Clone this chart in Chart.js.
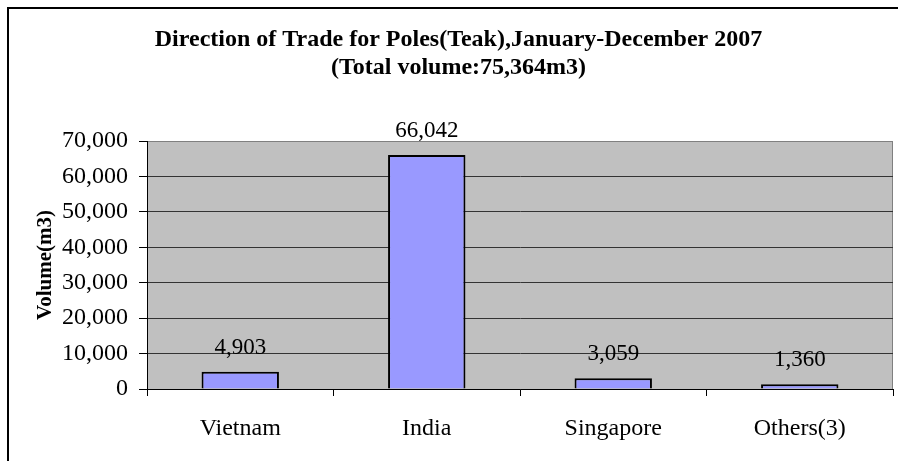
<!DOCTYPE html>
<html>
<head>
<meta charset="utf-8">
<script src="https://cdn.jsdelivr.net/npm/chart.js@4"></script>
<style>
  body { margin: 0; background: #fff; }
</style>
</head>
<body>
<canvas id="trade-chart" width="898" height="461"></canvas>
<script>
    // Chart data
    const countries = ['Vietnam', 'India', 'Singapore', 'Others(3)'];
    const volumes = [4903, 66042, 3059, 1360];
    const titleLines = [
        'Direction of Trade for Poles(Teak),January-December 2007',
        '(Total volume:75,364m3)',
    ];
    const yAxisTitle = 'Volume(m3)';

    const serif = '"Liberation Serif", "Times New Roman", serif';

    // Gray plot area + frame round the picture
    const backgroundPlugin = {
        id: 'plotBackground',
        beforeDraw: (chart) => {
            const { ctx, chartArea } = chart;
            ctx.save();
            ctx.fillStyle = '#ffffff';
            ctx.fillRect(0, 0, chart.width, chart.height);

            ctx.strokeStyle = '#000000';
            ctx.lineWidth = 2;
            ctx.beginPath();
            ctx.moveTo(8, chart.height);
            ctx.lineTo(8, 8);
            ctx.lineTo(chart.width, 8);
            ctx.stroke();

            ctx.fillStyle = '#c0c0c0';
            ctx.fillRect(
                chartArea.left,
                chartArea.top,
                chartArea.right - chartArea.left,
                chartArea.bottom - chartArea.top
            );
            ctx.strokeStyle = '#808080';
            ctx.lineWidth = 1;
            ctx.strokeRect(
                chartArea.left + 0.5,
                chartArea.top + 0.5,
                chartArea.right - chartArea.left - 1,
                chartArea.bottom - chartArea.top
            );
            ctx.restore();
        },
    };

    // Value labels above the bars
    const valueLabelPlugin = {
        id: 'valueLabels',
        afterDatasetsDraw: (chart) => {
            const { ctx } = chart;
            const meta = chart.getDatasetMeta(0);
            ctx.save();
            ctx.font = '23px ' + serif;
            ctx.fillStyle = '#000000';
            ctx.textAlign = 'center';
            ctx.textBaseline = 'middle';
            meta.data.forEach((bar, i) => {
                ctx.fillText(volumes[i].toLocaleString('en-US'), bar.x, bar.y - 24);
            });
            ctx.restore();
        },
    };

    const data = {
        labels: countries,
        datasets: [
            {
                data: volumes,
                backgroundColor: '#9999ff',
                borderColor: '#000000',
                borderWidth: 2,
                categoryPercentage: 1,
                barPercentage: 0.415,
            },
        ],
    };

    const config = {
        type: 'bar',
        data: data,
        options: {
            responsive: false,
            animation: false,
            layout: {
                padding: { left: 24, right: 5, top: 0, bottom: 0 },
            },
            plugins: {
                legend: { display: false },
                tooltip: { enabled: false },
                title: {
                    display: true,
                    text: titleLines,
                    color: '#000000',
                    font: { family: serif, size: 24, weight: 'bold', lineHeight: '28px' },
                    padding: { top: 26, bottom: 59 },
                },
            },
            scales: {
                x: {
                    afterFit: (scale) => {
                        scale.height = 72;
                    },
                    grid: {
                        drawOnChartArea: false,
                        drawTicks: true,
                        tickLength: 7,
                        color: '#000000',
                    },
                    border: { display: true, color: '#000000', width: 1 },
                    ticks: {
                        color: '#000000',
                        font: { family: serif, size: 24 },
                        padding: 18,
                        maxRotation: 0,
                    },
                },
                y: {
                    min: 0,
                    max: 70000,
                    afterFit: (scale) => {
                        scale.width = 123;
                    },
                    grid: {
                        color: (ctx) =>
                            ctx.tick && ctx.tick.value === 70000 ? 'rgba(0,0,0,0)' : '#333333',
                        tickColor: '#000000',
                        tickLength: 8,
                    },
                    border: { display: true, color: '#000000', width: 1 },
                    ticks: {
                        stepSize: 10000,
                        color: '#000000',
                        font: { family: serif, size: 24 },
                        padding: 11,
                        callback: (value) => value.toLocaleString('en-US'),
                    },
                    title: {
                        display: true,
                        text: yAxisTitle,
                        color: '#000000',
                        font: { family: serif, size: 21, weight: 'bold' },
                        padding: { top: 9, bottom: 0 },
                    },
                },
            },
        },
        plugins: [backgroundPlugin, valueLabelPlugin],
    };

    new Chart(document.getElementById('trade-chart'), config);
</script>
</body>
</html>
